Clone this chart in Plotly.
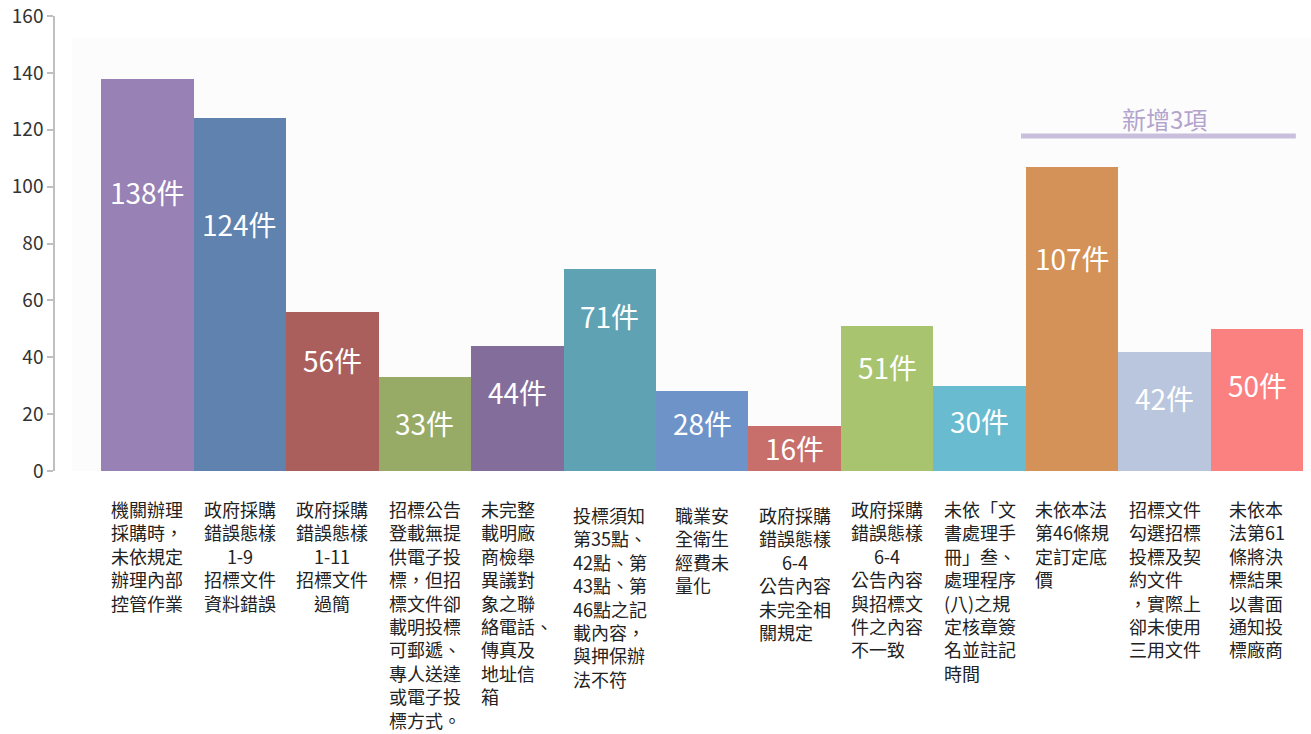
import plotly.graph_objects as go

categories = [
    "機關辦理<br>採購時，<br>未依規定<br>辦理內部<br>控管作業",
    "政府採購<br>錯誤態樣<br>1-9<br>招標文件<br>資料錯誤",
    "政府採購<br>錯誤態樣<br>1-11<br>招標文件<br>過簡",
    "招標公告<br>登載無提<br>供電子投<br>標，但招<br>標文件卻<br>載明投標<br>可郵遞、<br>專人送達<br>或電子投<br>標方式。",
    "未完整<br>載明廠<br>商檢舉<br>異議對<br>象之聯<br>絡電話、<br>傳真及<br>地址信<br>箱",
    "投標須知<br>第35點、<br>42點、第<br>43點、第<br>46點之記<br>載內容，<br>與押保辦<br>法不符",
    "職業安<br>全衛生<br>經費未<br>量化",
    "政府採購<br>錯誤態樣<br>6-4<br>公告內容<br>未完全相<br>關規定\u3000",
    "政府採購<br>錯誤態樣<br>6-4<br>公告內容<br>與招標文<br>件之內容<br>不一致\u3000",
    "未依「文<br>書處理手<br>冊」叁、<br>處理程序<br>(八)之規<br>定核章簽<br>名並註記<br>時間",
    "未依本法<br>第46條規<br>定訂定底<br>價",
    "招標文件<br>勾選招標<br>投標及契<br>約文件<br>，實際上<br>卻未使用<br>三用文件",
    "未依本<br>法第61<br>條將決<br>標結果<br>以書面<br>通知投<br>標廠商",
]
values = [138, 124, 56, 33, 44, 71, 28, 16, 51, 30, 107, 42, 50]
value_labels = [f"{v}件" for v in values]
new_items_label = "新增3項"

# styles / positions (not data)
colors = ["#9781b5", "#5f82ae", "#ab5f5d", "#97ab66", "#836e9b", "#5ea2b4", "#6e93c9",
          "#c86f6c", "#a9c46f", "#69bbd0", "#d49158", "#b9c6de", "#fb8080"]
label_y = [98.1, 87.0, 39, 16.9, 27.9, 54.5, 16.9, 8.1, 36.6, 17.6, 74.8, 25.6, 30.2]
cat_align = ["left", "center", "center", "left", "left", "left", "left",
             "center", "center", "left", "left", "left", "left"]
cat_yshift = [-23, -23, -23, -23, -23, -29, -29, -29, -23, -23, -23, -23, -23]

FONT = "Noto Sans CJK TC"
idx = list(range(len(categories)))

fig = go.Figure()
fig.add_trace(go.Bar(
    x=idx, y=values,
    marker=dict(color=colors, line=dict(width=0)),
    hoverinfo="skip",
    showlegend=False,
))

annotations = []
for i, (lab, ly) in enumerate(zip(value_labels, label_y)):
    annotations.append(dict(x=i, y=ly, text=lab, showarrow=False,
                            xanchor="center", yanchor="middle",
                            font=dict(family=FONT, size=28, color="white")))
for i, cat in enumerate(categories):
    annotations.append(dict(x=i, y=0, text=cat, showarrow=False,
                            xanchor="center", yanchor="top", align=cat_align[i],
                            yshift=cat_yshift[i],
                            font=dict(family=FONT, size=18, color="#222222")))
annotations.append(dict(x=11.0, y=124.1, text=new_items_label, showarrow=False,
                        xanchor="center", yanchor="middle",
                        font=dict(family=FONT, size=24, color="#b3a4cd")))

shapes = [
    dict(type="rect", xref="x", yref="y", x0=-0.816, x1=12.584, y0=-7.7, y1=152.2,
         fillcolor="#fcfcfc", line=dict(width=0), layer="below"),
    dict(type="line", xref="x", yref="y", x0=9.448, x1=12.42, y0=117.8, y1=117.8,
         line=dict(color="#c9bfdd", width=5)),
]

fig.update_layout(
    width=1311, height=734,
    margin=dict(l=55, r=0, t=16, b=263),
    paper_bgcolor="white", plot_bgcolor="rgba(0,0,0,0)",
    bargap=0,
    annotations=annotations,
    shapes=shapes,
    xaxis=dict(range=[-1, 12.584], showticklabels=False, showgrid=False,
               zeroline=False, showline=False, ticks=""),
    yaxis=dict(range=[0, 160], tickvals=list(range(0, 161, 20)), showgrid=False,
               zeroline=False, showline=True, linecolor="#bfbfbf", linewidth=1.5,
               ticks="outside", ticklen=6, tickcolor="#bfbfbf", tickwidth=1.5,
               tickfont=dict(family=FONT, size=19, color="#333333")),
    font=dict(family=FONT),
)

fig.write_html("out.html", config={"displayModeBar": False},
               post_script="document.body.style.margin='0';document.body.style.overflow='hidden';")
